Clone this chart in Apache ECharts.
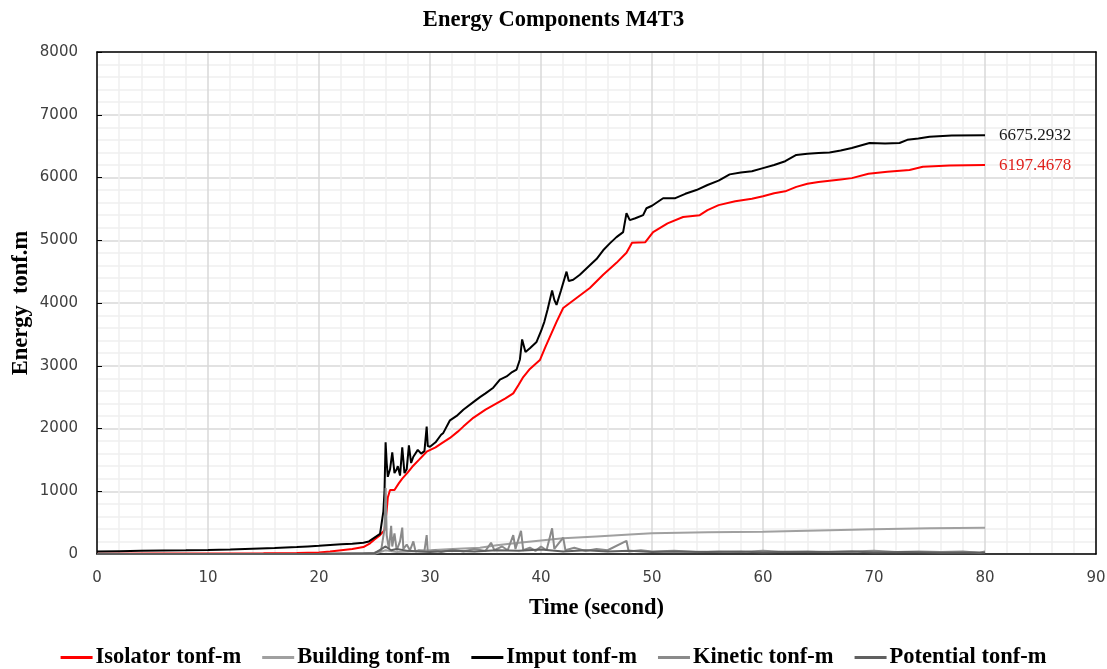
<!DOCTYPE html>
<html>
<head>
<meta charset="utf-8">
<script src="https://cdn.jsdelivr.net/npm/echarts@6/dist/echarts.min.js"></script>
<style>html,body{margin:0;padding:0;background:#fff}#c{width:1107px;height:669px}</style>
</head>
<body>
<div id="c"></div>
<script>
const xTicks = [0, 10, 20, 30, 40, 50, 60, 70, 80, 90];
const yTicks = [0, 1000, 2000, 3000, 4000, 5000, 6000, 7000, 8000];
const seriesNames = ['Isolator tonf-m', 'Building tonf-m', 'Imput tonf-m', 'Kinetic tonf-m', 'Potential tonf-m'];

const isolator = [[0,5],[5,6],[10,8],[15,10],[18,15],[20,25],[21,40],[22,60],[23,80],[24,110],[24.6,170],[25,230],[25.5,300],[25.9,380],[26.1,700],[26.2,900],[26.4,1020],[26.8,1020],[27.2,1130],[27.5,1200],[28,1300],[28.4,1390],[29,1500],[29.7,1630],[30.5,1700],[31,1760],[31.8,1850],[32.5,1950],[33,2030],[33.9,2170],[35,2300],[36,2400],[36.8,2480],[37.5,2560],[38,2700],[38.4,2820],[39,2950],[39.9,3090],[40.4,3300],[40.8,3460],[41.4,3700],[42,3920],[42.6,4000],[43.2,4080],[44.4,4240],[45.6,4450],[46.8,4640],[47.7,4800],[48.2,4960],[49.4,4970],[50.1,5130],[51.4,5270],[52.8,5370],[54.3,5400],[55,5480],[56,5560],[57.5,5620],[59,5660],[60,5700],[61,5750],[62,5780],[63,5850],[64,5900],[65,5930],[66,5950],[67,5970],[68,5990],[69.5,6060],[71.2,6090],[73.2,6120],[74.4,6170],[76.8,6190],[80,6197.4678]];

const building = [[0,0],[10,0],[20,2],[25,5],[26,60],[27,30],[28,40],[30,60],[32,80],[34.5,100],[36,140],[37.8,175],[40,215],[42,250],[45,280],[48,310],[50,330],[55,345],[60,355],[65,375],[70,395],[75,410],[80,420]];

const imput = [[0,40],[2,45],[4,50],[6,55],[8,58],[10,64],[12,72],[14,85],[16,96],[18,110],[19,120],[20,130],[21,143],[22,155],[23,165],[24,180],[24.5,200],[25,260],[25.5,320],[25.8,680],[25.9,1000],[26,1780],[26.1,1450],[26.2,1230],[26.4,1350],[26.6,1620],[26.8,1290],[27,1350],[27.1,1400],[27.3,1250],[27.5,1700],[27.7,1290],[27.9,1350],[28.1,1730],[28.3,1450],[28.5,1550],[28.9,1660],[29.2,1600],[29.5,1640],[29.7,2030],[29.8,1720],[30,1710],[30.5,1780],[31,1900],[31.2,1930],[31.8,2130],[32.4,2200],[33,2300],[33.9,2420],[34.5,2500],[35,2560],[35.7,2650],[36.3,2780],[36.9,2830],[37.4,2900],[37.8,2940],[38.1,3100],[38.3,3420],[38.6,3220],[39,3280],[39.6,3380],[40,3550],[40.3,3700],[40.6,3900],[41,4200],[41.2,4050],[41.4,3970],[41.8,4200],[42.3,4500],[42.5,4350],[42.9,4370],[43.5,4450],[44.4,4600],[45,4700],[45.6,4840],[46.2,4950],[46.8,5050],[47.4,5130],[47.7,5430],[48,5320],[48.5,5350],[49.2,5400],[49.5,5510],[50,5550],[51,5670],[52.1,5670],[53,5740],[54,5800],[55,5880],[56,5950],[57,6050],[58,6080],[59,6100],[60,6150],[61,6200],[62,6260],[63,6360],[64,6380],[65,6390],[66,6400],[67,6430],[68,6470],[69.6,6550],[71,6540],[72.3,6550],[73,6600],[74,6620],[75,6650],[77,6670],[80,6675.2932]];

const kinetic = [[0,0],[20,2],[24,10],[25,20],[25.6,60],[25.9,400],[26,1050],[26.1,300],[26.3,80],[26.5,450],[26.6,120],[26.8,330],[27,60],[27.3,200],[27.5,420],[27.6,80],[27.9,150],[28.2,60],[28.5,200],[28.7,40],[29,60],[29.5,50],[29.7,300],[29.8,40],[30.5,60],[31,30],[32,70],[33,40],[34,80],[35,50],[35.5,180],[35.8,60],[36.5,120],[37,60],[37.5,300],[37.7,80],[38.2,370],[38.4,60],[39,100],[39.5,50],[40,120],[40.5,60],[41,410],[41.2,80],[42,260],[42.2,60],[43,100],[44,50],[45,80],[46,60],[47.7,210],[47.9,40],[49,60],[50,40],[52,50],[54,30],[56,40],[58,30],[60,50],[62,30],[64,40],[66,30],[68,40],[70,50],[72,30],[74,40],[76,30],[78,40],[79.5,20],[80,40]];

const potential = [[0,0],[20,1],[25,10],[26,120],[26.5,60],[27,80],[28,50],[29,40],[30,30],[32,50],[34,40],[36,60],[38,50],[40,70],[42,40],[44,60],[46,40],[48,50],[50,30],[52,40],[55,30],[58,40],[60,25],[62,35],[65,30],[68,40],[70,25],[73,30],[76,20],[79,25],[80,20]];

const serif = 'Liberation Serif';
const chart = echarts.init(document.getElementById('c'), null, {renderer: 'canvas'});

function mk(name, data, color, z, endLbl) {
  const s = {
    name: name, type: 'line', data: data, symbol: 'none', showSymbol: false,
    lineStyle: {color: color, width: 2}, itemStyle: {color: color}, z: z,
    animation: false
  };
  if (endLbl) {
    s.endLabel = {show: true, distance: 14, color: color === '#000000' ? '#1a1a1a' : '#e0201b',
      fontFamily: serif, fontSize: 17, formatter: p => String(p.value[1])};
  }
  return s;
}

const gridLine = {show: true, lineStyle: {color: '#d9d9d9', width: 1.5}};
const minorLine = {show: true, lineStyle: {color: '#f0f0f0', width: 1.5}};
const frameAxis = {
  axisLine: {show: true, onZero: false, lineStyle: {color: '#000', width: 1.5}},
  axisTick: {show: false}, axisLabel: {show: false}, splitLine: {show: false}
};

chart.setOption({
  backgroundColor: '#ffffff',
  animation: false,
  title: {
    text: 'Energy Components M4T3', left: 'center', top: 4,
    textStyle: {fontFamily: serif, fontWeight: 'bold', fontSize: 22.5, color: '#000'}
  },
  grid: {left: 97, right: 11, top: 52, bottom: 115, show: false,
    containLabel: false, outerBoundsMode: 'none'},
  legend: {
    bottom: 0, left: 'center', itemGap: 21, itemWidth: 32, itemHeight: 3, icon: 'rect', padding: 0,
    data: seriesNames,
    textStyle: {fontFamily: serif, fontWeight: 'bold', fontSize: 22.5, color: '#000', padding: [0,0,0,-2]}
  },
  xAxis: [{
    type: 'value', min: xTicks[0], max: xTicks[xTicks.length - 1], interval: 10,
    name: 'Time (second)', nameLocation: 'middle', nameGap: 43, nameMoveOverlap: false,
    nameTextStyle: {fontFamily: serif, fontWeight: 'bold', fontSize: 22.5, color: '#000'},
    axisLine: {show: true, onZero: false, lineStyle: {color: '#000', width: 1.5}},
    axisTick: {show: false},
    axisLabel: {fontFamily: 'DejaVu Sans', fontSize: 15, color: '#404040', margin: 17, formatter: v => String(v)},
    splitLine: gridLine,
    minorTick: {show: false, splitNumber: 5},
    minorSplitLine: minorLine
  }, Object.assign({type: 'value', position: 'top', min: xTicks[0], max: xTicks[xTicks.length - 1], interval: 10}, frameAxis)],
  yAxis: [{
    type: 'value', min: yTicks[0], max: yTicks[yTicks.length - 1], interval: 1000,
    name: 'Energy  tonf.m', nameLocation: 'middle', nameGap: 64, nameMoveOverlap: false,
    nameTextStyle: {fontFamily: serif, fontWeight: 'bold', fontSize: 22.5, color: '#000'},
    axisLine: {show: true, onZero: false, lineStyle: {color: '#000', width: 1.5}},
    axisTick: {show: true, inside: true, length: 5, lineStyle: {color: '#000'}},
    axisLabel: {fontFamily: 'DejaVu Sans', fontSize: 15, color: '#404040', margin: 19, formatter: v => String(v)},
    splitLine: gridLine,
    minorTick: {show: false, splitNumber: 5},
    minorSplitLine: minorLine
  }, Object.assign({type: 'value', position: 'right', min: yTicks[0], max: yTicks[yTicks.length - 1], interval: 1000}, frameAxis)],
  series: [
    mk(seriesNames[0], isolator, '#ff0000', 3, true),
    mk(seriesNames[1], building, '#a0a0a0', 2, false),
    mk(seriesNames[2], imput, '#000000', 4, true),
    mk(seriesNames[3], kinetic, '#8a8a8a', 5, false),
    mk(seriesNames[4], potential, '#606060', 6, false)
  ]
});
</script>
</body>
</html>
